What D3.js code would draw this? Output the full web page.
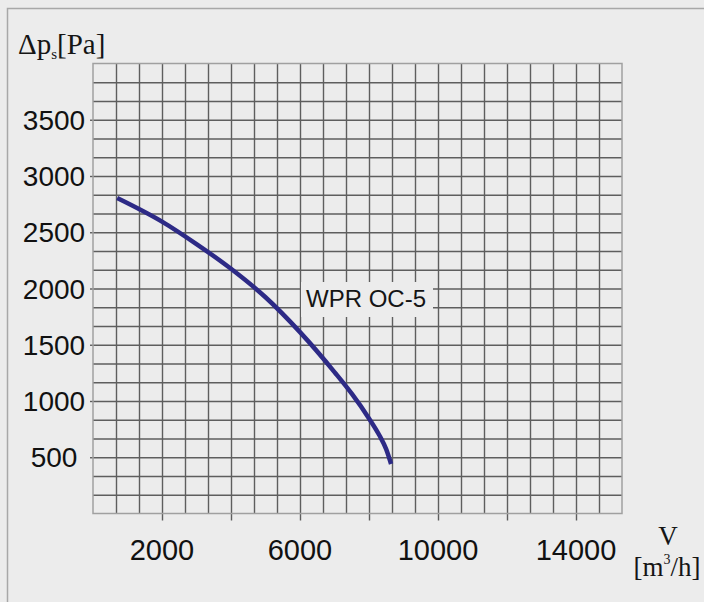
<!DOCTYPE html>
<html>
<head>
<meta charset="utf-8">
<script src="https://cdn.jsdelivr.net/npm/d3@7"></script>
<style>
  html, body { margin: 0; padding: 0; background: #ececec; }
  svg { display: block; }
</style>
</head>
<body>
<svg id="chart" width="704" height="602"></svg>
<script>
// ---- data ----
const flowValues     = [700, 2000, 3000, 4000, 5000, 6000, 7000, 7500, 8000, 8300, 8500, 8640];
const pressureValues = [2805, 2595, 2395, 2175, 1922, 1612, 1257, 1065, 845, 695, 570, 440];
const xTickLabels = [2000, 6000, 10000, 14000];
const xMajorTicks = [2000, 4000, 6000, 8000, 10000, 12000, 14000];
const yTickLabels = [500, 1000, 1500, 2000, 2500, 3000, 3500];
const seriesName = "WPR OC-5";
const xGridStep = 2000 / 3;
const yGridStep = 500 / 3;
const xMax = 23 * xGridStep;
const yMax = 4000;

// ---- layout ----
const svg = d3.select("#chart");
const pLeft = 93, pRight = 622, pTop = 63.5, pBottom = 513.5;

svg.append("rect").attr("x", 0).attr("y", 0).attr("width", 704).attr("height", 602).attr("fill", "#ececec");
svg.append("rect").attr("x", 7.5).attr("y", 8.5).attr("width", 720).attr("height", 620)
  .attr("fill", "none").attr("stroke", "#a8a8a8").attr("stroke-width", 1.5);

const x = d3.scaleLinear().domain([0, xMax]).range([pLeft, pRight]);
const y = d3.scaleLinear().domain([0, yMax]).range([pBottom, pTop]);

const xGrid = d3.range(1, 23).map(i => i * xGridStep);
const yGrid = d3.range(1, 24).map(i => i * yGridStep);

const styleLines = s => { s.select(".domain").remove(); s.selectAll("line").attr("stroke", "#5e5e5e").attr("stroke-width", 1.4); };
const g = svg.append("g");
g.append("g").attr("transform", `translate(0,${pBottom})`)
  .call(d3.axisBottom(x).tickValues(xGrid).tickSize(-(pBottom - pTop)).tickFormat(""))
  .call(styleLines);
g.append("g").attr("transform", `translate(0,${pBottom})`)
  .call(d3.axisBottom(x).tickValues(xMajorTicks).tickSize(7).tickFormat(""))
  .call(styleLines);
g.append("g").attr("transform", `translate(${pLeft},0)`)
  .call(d3.axisLeft(y).tickValues(yGrid).tickSize(-(pRight - pLeft)).tickFormat(""))
  .call(styleLines);
g.append("g").attr("transform", `translate(${pLeft},0)`)
  .call(d3.axisLeft(y).tickValues(yTickLabels).tickSize(3).tickFormat(""))
  .call(styleLines);
g.append("rect").attr("x", pLeft).attr("y", pTop).attr("width", pRight - pLeft).attr("height", pBottom - pTop)
  .attr("fill", "none").attr("stroke", "#a0a0a0").attr("stroke-width", 1.5);

// tick labels
svg.append("g").selectAll("text").data(yTickLabels).join("text")
  .attr("x", 54).attr("y", d => y(d)).attr("dy", "0.36em")
  .attr("text-anchor", "middle")
  .attr("font-family", "'Liberation Sans', Arial, sans-serif").attr("font-size", 28).attr("fill", "#111")
  .text(d => d);
svg.append("g").selectAll("text").data(xTickLabels).join("text")
  .attr("x", d => x(d)).attr("y", 560)
  .attr("text-anchor", "middle")
  .attr("font-family", "'Liberation Sans', Arial, sans-serif").attr("font-size", 29).attr("fill", "#111")
  .text(d => d);

// axis titles
const serif = "'Liberation Serif', 'Times New Roman', serif";
const yTitle = svg.append("text").attr("x", 18).attr("y", 54)
  .attr("font-family", serif).attr("font-size", 29).attr("fill", "#151515");
yTitle.append("tspan").text("Δp");
yTitle.append("tspan").attr("font-size", 15).attr("dy", 5).text("s");
yTitle.append("tspan").attr("dy", -5).text("[Pa]");

svg.append("text").attr("x", 668).attr("y", 545).attr("text-anchor", "middle")
  .attr("font-family", serif).attr("font-size", 27).attr("fill", "#151515").text("V");
const xTitle = svg.append("text").attr("x", 667).attr("y", 576).attr("text-anchor", "middle")
  .attr("font-family", serif).attr("font-size", 27).attr("fill", "#151515");
xTitle.append("tspan").text("[m");
xTitle.append("tspan").attr("font-size", 14).attr("dy", -12).text("3");
xTitle.append("tspan").attr("dy", 12).text("/h]");

// curve
const pts = flowValues.map((v, i) => [v, pressureValues[i]]);
const line = d3.line().x(d => x(d[0])).y(d => y(d[1])).curve(d3.curveMonotoneX);
svg.append("path").attr("d", line(pts))
  .attr("fill", "none").attr("stroke", "#2d2a86").attr("stroke-width", 4.5).attr("stroke-linecap", "butt");

// series label with background box
svg.append("rect").attr("x", 301).attr("y", 282).attr("width", 132).attr("height", 35).attr("fill", "#ececec");
svg.append("text").attr("x", 306).attr("y", 307)
  .attr("font-family", "'Liberation Sans', Arial, sans-serif").attr("font-size", 24).attr("fill", "#151515")
  .text(seriesName);
</script>
</body>
</html>
